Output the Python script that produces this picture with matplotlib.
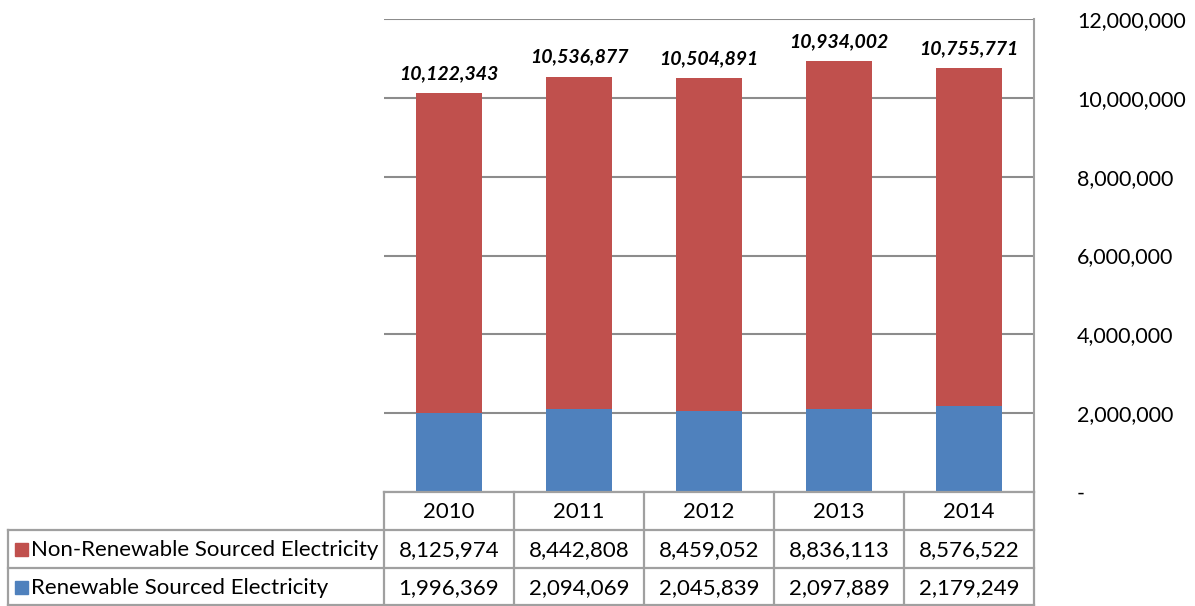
import matplotlib
matplotlib.use("Agg")
import matplotlib.pyplot as plt
from matplotlib.patches import Rectangle

years = ["2010", "2011", "2012", "2013", "2014"]
non_renewable = [8125974, 8442808, 8459052, 8836113, 8576522]
renewable = [1996369, 2094069, 2045839, 2097889, 2179249]
series_names = ["Non-Renewable Sourced Electricity", "Renewable Sourced Electricity"]
yticks = [0, 2000000, 4000000, 6000000, 8000000, 10000000, 12000000]

RED = "#C0504D"
BLUE = "#4F81BD"
GRID = "#8C8C8C"
BORDER = "#A0A0A0"

plt.rcParams['font.family'] = ['Lato', 'DejaVu Sans']

W, H = 1195, 606
fig = plt.figure(figsize=(W / 100, H / 100), dpi=100)

# plot area in pixels
px0, px1 = 384, 1034
py_top, py_bot = 19, 492
ax = fig.add_axes([px0 / W, 1 - py_bot / H, (px1 - px0) / W, (py_bot - py_top) / H])

n = len(years)
x = list(range(n))
ax.bar(x, renewable, width=0.51, color=BLUE, zorder=3)
ax.bar(x, non_renewable, width=0.51, bottom=renewable, color=RED, zorder=3)

totals = [a + b for a, b in zip(non_renewable, renewable)]
for xi, t in zip(x, totals):
    ax.annotate(f"{t:,}", (xi, t), xytext=(0, 8), textcoords="offset points",
                ha="center", va="bottom", fontsize=14, fontweight="bold",
                fontstyle="italic", color="black")

ax.set_xlim(-0.5, n - 0.5)
ax.set_ylim(0, 12000000)
ax.set_yticks(yticks)
ax.set_yticklabels(["-" if v == 0 else f"{v:,}" for v in yticks])
ax.yaxis.tick_right()
ax.tick_params(axis="y", length=0, pad=31, labelsize=15.5)
for lbl in ax.get_yticklabels():
    lbl.set_horizontalalignment("left")
ax.set_xticks([])
ax.grid(axis="y", color=GRID, linewidth=1.5, zorder=0)
for s in ["top", "left", "bottom"]:
    ax.spines[s].set_visible(False)
ax.spines["right"].set_color(BORDER)
ax.spines["right"].set_linewidth(1.5)

# data table
tx0 = 8
tax = fig.add_axes([0, 0, 1, 1], facecolor="none")
tax.set_xlim(0, W)
tax.set_ylim(H, 0)
tax.axis("off")

col_w = (px1 - px0) / n
r0, r1, r2, r3 = 492, 530, 568, 606
lw = 1.6
tax.plot([px0, px1], [r0, r0], color=BORDER, lw=lw)
tax.plot([tx0, px1], [r1, r1], color=BORDER, lw=lw)
tax.plot([tx0, px1], [r2, r2], color=BORDER, lw=lw)
tax.plot([tx0, px1], [r3 - 1, r3 - 1], color=BORDER, lw=lw)
tax.plot([tx0, tx0], [r1, r3], color=BORDER, lw=lw)
for i in range(n + 1):
    xv = px0 + i * col_w
    tax.plot([xv, xv], [r0, r3], color=BORDER, lw=lw)

fs = 16
for i, yr in enumerate(years):
    cx = px0 + (i + 0.5) * col_w
    tax.text(cx, (r0 + r1) / 2 + 1, yr, ha="center", va="center", fontsize=fs)
    tax.text(cx, (r1 + r2) / 2 + 1, f"{non_renewable[i]:,}", ha="center", va="center", fontsize=fs)
    tax.text(cx, (r2 + r3) / 2 + 1, f"{renewable[i]:,}", ha="center", va="center", fontsize=fs)

for (ya, yb), name, col in [((r1, r2), series_names[0], RED), ((r2, r3), series_names[1], BLUE)]:
    yc = (ya + yb) / 2
    tax.add_patch(Rectangle((15, yc - 6.5), 13, 13, color=col))
    tax.text(31, yc + 1, name, ha="left", va="center", fontsize=fs)

fig.savefig("out.png", dpi=100)
